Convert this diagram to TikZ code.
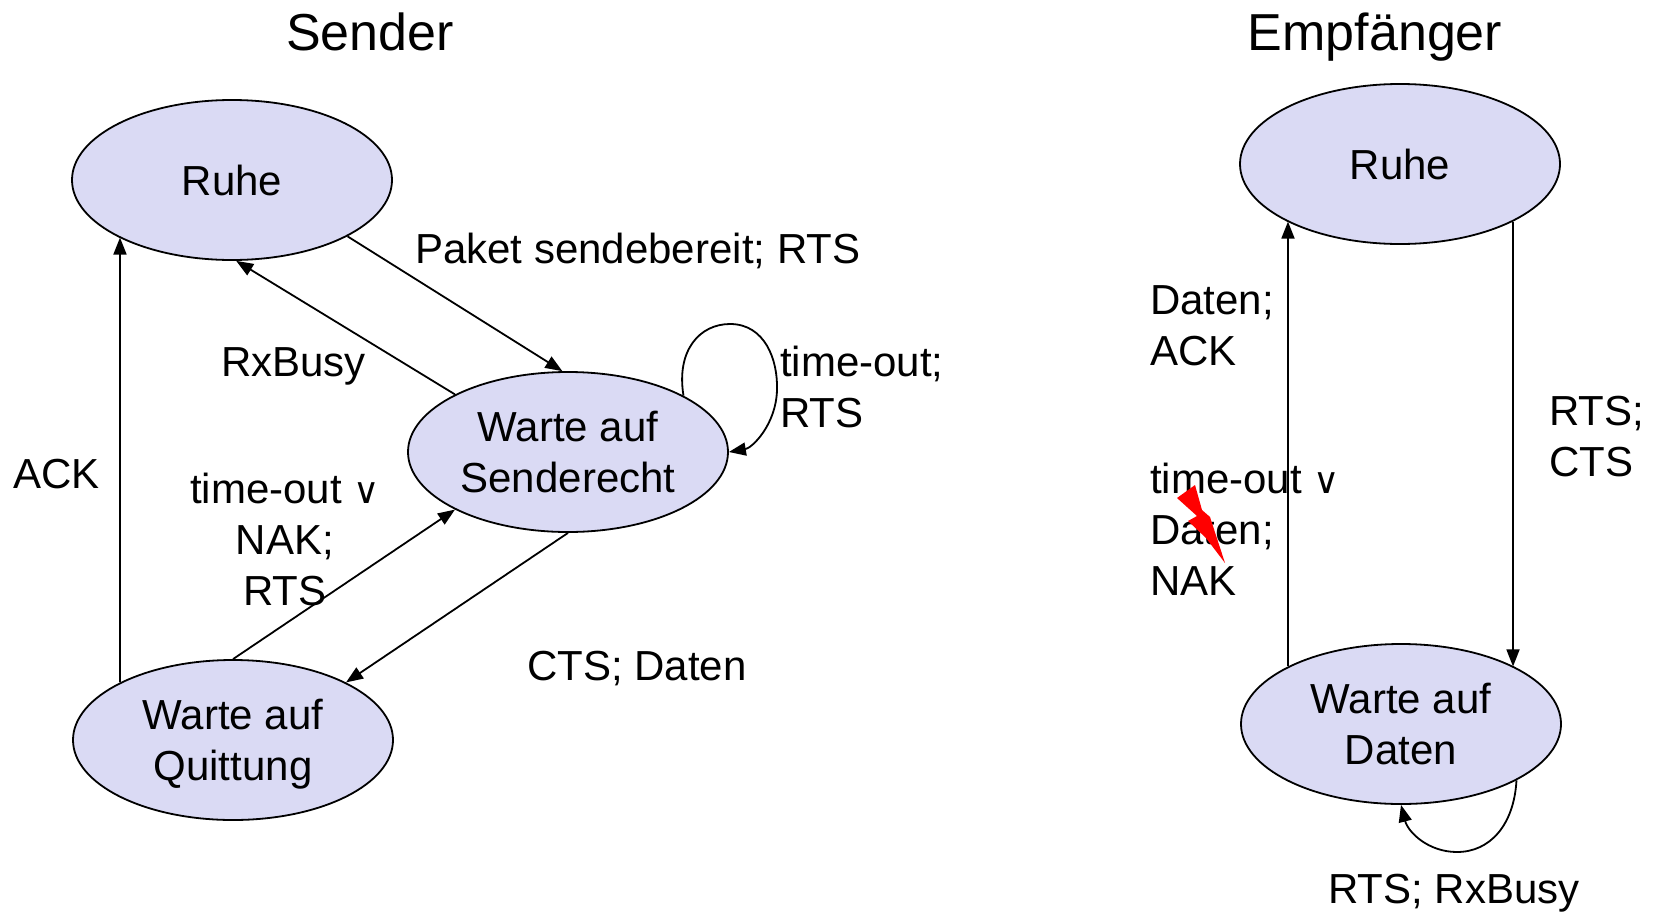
\documentclass[tikz,border=0pt]{standalone}
\usepackage{fontspec}
\setmainfont{Liberation Sans}
\newfontfamily\symfont{DejaVu Sans}
\usetikzlibrary{shapes.geometric,arrows.meta}
\definecolor{statefill}{RGB}{218,218,244}
\newcommand{\myor}{{\symfont\fontsize{36}{36}\selectfont ∨}}
\begin{document}
\begin{tikzpicture}[x=1pt,y=-1pt,
  state/.style={ellipse,draw,line width=1.8pt,fill=statefill,minimum width=320pt,minimum height=160pt,inner sep=0pt,align=center,text depth=0pt,font=\fontsize{42}{51}\selectfont},
  lbl/.style={inner sep=0pt,font=\fontsize{42}{51}\selectfont},
  ttl/.style={inner sep=0pt,font=\fontsize{52}{60}\selectfont},
  arr/.style={line width=1.8pt,-{Triangle[length=17pt,width=13pt]}}]
\useasboundingbox (0,0) rectangle (1657,913);
\fill[white] (0,0) rectangle (1657,913);
% states
\node[state] (rs) at (232,180) {Ruhe};
\node[state] (ws) at (568,452) {Warte auf\\Senderecht};
\node[state] (q) at (233,740) {Warte auf\\Quittung};
\node[state] (re) at (1400,164) {Ruhe};
\node[state] (wd) at (1401,724) {Warte auf\\Daten};
% sender transitions
\draw[arr] (rs.-26.6) -- (ws.94);
\draw[arr] (ws.153) -- (rs.-87);
\draw[arr] (q.north) -- (ws.207);
\draw[arr] (ws.south) -- (q.27);
\draw[arr] (q.153) -- (q.153 |- rs.207);
\draw[arr] (ws.26) .. controls (676,350) and (700,324) .. (730,324)
  .. controls (765,324) and (778,360) .. (777,390)
  .. controls (776,425) and (752,448) .. (ws.east);
% receiver transitions
\draw[arr] (wd.153) -- (wd.153 |- re.207);
\draw[arr] (re.-27) -- (re.-27 |- wd.27);
\draw[arr] (wd.-26.6) .. controls (1514,825) and (1490,852) .. (1457,852)
  .. controls (1428,852) and (1408,832) .. (wd.south);
% titles
\node[ttl,anchor=base] (tS) at (370,50) {Sender};
\node[ttl,anchor=base] (tE) at (1375,50) {Empfänger};
% labels
\node[lbl,anchor=base west] (l1) at (415,263) {Paket sendebereit; RTS};
\node[lbl,anchor=base west] (l2) at (221,376) {RxBusy};
\node[lbl,anchor=base west,align=left] (l3) at (780,427) {time-out;\\RTS};
\node[lbl,anchor=base west] (l4) at (13,488) {ACK};
\node[lbl,anchor=base,align=center] (l5) at (285,605) {time-out \myor\\NAK;\\RTS};
\node[lbl,anchor=base west] (l6) at (527,680) {CTS; Daten};
\node[lbl,anchor=base west,align=left] (l7) at (1150,365) {Daten;\\ACK};
\node[lbl,anchor=base west,align=left] (l8) at (1549,476) {RTS;\\CTS};
\node[lbl,anchor=base west,align=left] (l9) at (1150,595) {time-out \myor\\Daten;\\NAK};
\node[lbl,anchor=base west] (l10) at (1328,903) {RTS; RxBusy};
% lightning
\fill[red] (1177,498) -- (1195,485) -- (1202,510) -- (1210,517) -- (1225,563) -- (1206,538) -- (1188,521) -- (1197,516) -- cycle;
\end{tikzpicture}
\end{document}
